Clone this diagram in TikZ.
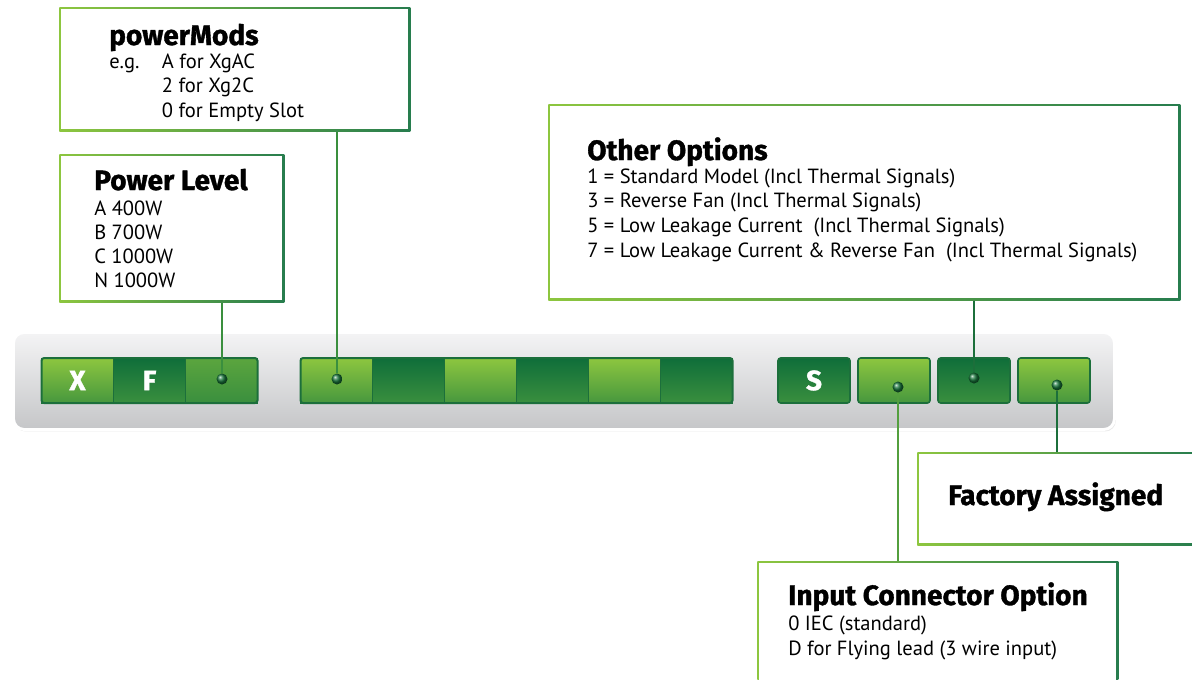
\documentclass[tikz,border=0pt]{standalone}
\usepackage{fontspec}
\setmainfont{PT Sans}
\newfontfamily\headfont{Fira Sans}[BoldFeatures={FakeBold=1.2}]
\usetikzlibrary{positioning,shadows}

\definecolor{lightgreen}{HTML}{8DC63F}
\definecolor{darkgreen}{HTML}{0F6E3A}
\definecolor{midgreen}{HTML}{3A8F3E}
\definecolor{edgegreen}{HTML}{1C6F3B}
\definecolor{barlight}{HTML}{F4F4F5}
\definecolor{bardark}{HTML}{C5C6C8}

\tikzset{
sheet/.style={
    x=0.75pt,
    y=-0.75pt
},
optbox/.style={
    anchor=north west,
    inner sep=0pt,
    left color=lightgreen,
    right color=darkgreen!90,
    path picture={\fill[white] ([shift={(2,2)}]path picture bounding box.north west) rectangle ([shift={(-2,-2)}]path picture bounding box.south east);}
},
title/.style={
    anchor=base west,
    inner sep=0pt,
    font=\headfont\bfseries\fontsize{21}{23}\selectfont
},
body/.style={
    anchor=base west,
    inner sep=0pt,
    font=\fontsize{15.4}{18.4}\selectfont
},
bar/.style={
    anchor=north west,
    inner sep=0pt,
    top color=barlight,
    bottom color=bardark,
    draw=white,
    line width=2.2pt,
    rounded corners=8pt,
    drop shadow={shadow xshift=1pt, shadow yshift=-1.5pt, opacity=0.18, fill=gray}
},
cell/.style={
    inner sep=0pt,
    outer sep=0pt,
    minimum width=72*0.75pt,
    minimum height=45*0.75pt,
    draw=edgegreen,
    line width=0.6pt,
    font=\headfont\bfseries\fontsize{21}{23}\selectfont,
    text=white
},
lit/.style={
    cell,
    top color=lightgreen,
    bottom color=midgreen!85!lightgreen
},
deep/.style={
    cell,
    top color=darkgreen,
    bottom color=midgreen
},
mid/.style={
    cell,
    top color=midgreen!60!lightgreen,
    bottom color=midgreen
},
solo/.style={
    rounded corners=2pt,
    line width=1.2pt
},
rim/.style={
    draw=edgegreen,
    line width=1.5pt,
    rounded corners=2pt
},
dot/.style={
    circle,
    inner sep=0pt,
    minimum size=11*0.75pt,
    ball color=darkgreen!80!midgreen,
    shading=ball
},
wire/.style={
    midgreen,
    line width=1.5*0.75pt
}}

\begin{document}
\begin{tikzpicture}[sheet]
\useasboundingbox (0,0) rectangle (1192,679);

% option boxes
\node[optbox, minimum width=351*0.75pt, minimum height=124*0.75pt] (pmbox) at (59,7)    {};
\node[optbox, minimum width=225*0.75pt, minimum height=148*0.75pt] (plbox) at (59,154)  {};
\node[optbox, minimum width=632*0.75pt, minimum height=196*0.75pt] (oobox) at (548,104) {};
\node[optbox, minimum width=280*0.75pt, minimum height=93*0.75pt]  (fabox) at (917,452) {};
\node[optbox, minimum width=361*0.75pt, minimum height=125*0.75pt] (icbox) at (757,561) {};

% texts
\node[title] (pmtitle) at (109,45)  {powerMods};
\node[body]  (pmbody)  at (109,68)  {\begin{tabular}[t]{@{}l@{}l@{}}\makebox[39.5pt][l]{e.g.} & A for XgAC\\ & 2 for Xg2C\\ & 0 for Empty Slot\end{tabular}};
\node[title] (pltitle) at (94,190)  {Power Level};
\node[body, font=\fontsize{15.4}{18.2}\selectfont] (plbody) at (94,215)
    {\begin{tabular}[t]{@{}l@{}}A 400W\\ B 700W\\ C 1000W\\ N 1000W\end{tabular}};
\node[title] (ootitle) at (587,160) {Other Options};
\node[body, font=\fontsize{15.4}{18.5}\selectfont]  (oobody)  at (587,183)
    {\begin{tabular}[t]{@{}l@{}}1 = Standard Model (Incl Thermal Signals)\\ 3 = Reverse Fan (Incl Thermal Signals)\\ 5 = Low Leakage Current \ (Incl Thermal Signals)\\ 7 = Low Leakage Current \& Reverse Fan \ (Incl Thermal Signals)\end{tabular}};
\node[title] (fatitle) at (948,505) {Factory Assigned};
\node[title] (ictitle) at (788,605) {Input Connector Option};
\node[body, font=\fontsize{15.4}{18.75}\selectfont]  (icbody)  at (788,630)
    {\begin{tabular}[t]{@{}l@{}}0 IEC (standard)\\ D for Flying lead (3 wire input)\end{tabular}};

% the part number bar
\node[bar, minimum width=1101*0.75pt, minimum height=97*0.75pt] (strip) at (12,331) {};

\node[lit]  (cx) at (77.5,380.5) {X};
\node[deep] (cf) [right=0pt of cx] {F};
\node[mid]  (cp) [right=0pt of cf] {};
\draw[rim] (cx.north west) rectangle (cp.south east);

\node[lit]  (m1) at (336.5,380.5) {};
\node[deep] (m2) [right=0pt of m1] {};
\node[lit]  (m3) [right=0pt of m2] {};
\node[deep] (m4) [right=0pt of m3] {};
\node[lit]  (m5) [right=0pt of m4] {};
\node[deep] (m6) [right=0pt of m5] {};
\draw[rim] (m1.north west) rectangle (m6.south east);

\node[deep, solo] (cs)  at (814,380.5)        {S};
\node[lit, solo]  (cic) [right=8*0.75pt of cs]  {};
\node[deep, solo] (coo) [right=8*0.75pt of cic] {};
\node[lit, solo]  (cfa) [right=8*0.75pt of coo] {};

% dots
\node[dot] (pldot) at (222,379)  {};
\node[dot] (pmdot) at (337,379)  {};
\node[dot] (oodot) at (974,378)  {};
\node[dot] (icdot) at (898,387)  {};
\node[dot] (fadot) at (1057,385) {};

% leads
\draw[wire] (plbox.south -| pldot) -- (pldot);
\draw[wire] (pmbox.south -| pmdot) -- (pmdot);
\draw[wire, edgegreen] (oobox.south -| oodot) -- (oodot);
\draw[wire, line width=2.2pt, midgreen!70!lightgreen] (icdot) -- (icdot |- icbox.north);
\draw[wire, edgegreen] (fadot) -- (fadot |- fabox.north);
\end{tikzpicture}
\end{document}
